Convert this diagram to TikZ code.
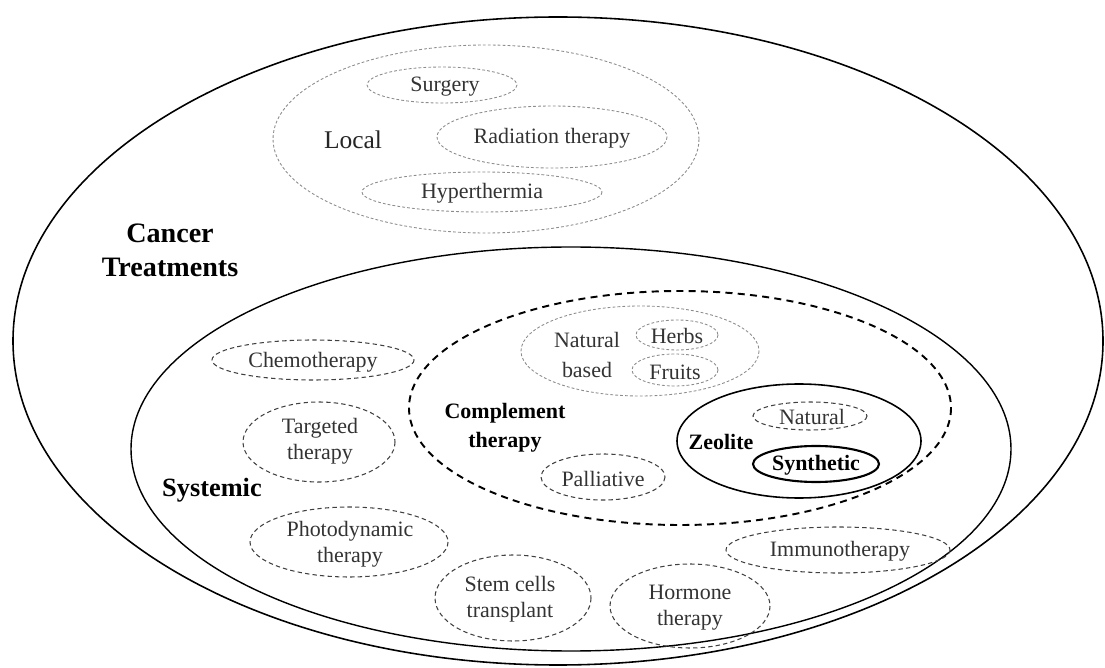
\documentclass[tikz,border=0pt]{standalone}
\usepackage{fontspec}
\setmainfont{Liberation Serif}
\tikzset{
  outerline/.style={line width=0.9pt},
  sysline/.style={line width=0.8pt},
  lightdash/.style={draw=black!45, line width=0.5pt, dash pattern=on 1.6pt off 1.2pt},
  itemdash/.style={draw=black!75, line width=0.6pt, dash pattern=on 2.5pt off 1.8pt},
  compdash/.style={line width=1.1pt, dash pattern=on 4pt off 3pt},
  zeoline/.style={line width=0.9pt},
  synline/.style={line width=1.2pt},
  lbl/.style={font=\fontsize{12.5}{15}\selectfont, text=black!80, align=center, inner sep=0pt},
  boldlbl/.style={font=\fontsize{12.5}{16.5}\selectfont\bfseries, align=center, inner sep=0pt},
  locallbl/.style={font=\fontsize{14.5}{17}\selectfont, text=black!85, inner sep=0pt},
  headlbl/.style={font=\fontsize{16}{19.3}\selectfont\bfseries, align=center, inner sep=0pt},
  syslbl/.style={font=\fontsize{15}{18}\selectfont\bfseries, inner sep=0pt}
}
\begin{document}
\begin{tikzpicture}[x=0.02cm, y=-0.02cm]
		\useasboundingbox (0,0) rectangle (1105,668);
		%%%%% START %%%%%
		
		\draw[outerline] (558, 341) ellipse (545 and 324);
		\node[headlbl] (cancer) at (170, 250) {Cancer\\Treatments};
		
		% local
		\draw[lightdash] (486, 139) ellipse (213 and 94);
		\node[locallbl] (local) at (353, 140) {Local};
		\draw[lightdash] (442, 85) ellipse (75 and 18);
		\node[lbl] (surgery) at (445, 87) {Surgery};
		\draw[lightdash] (552, 137) ellipse (115 and 31);
		\node[lbl] (radiation) at (552, 138) {Radiation therapy};
		\draw[lightdash] (482, 192) ellipse (120 and 20);
		\node[lbl] (hyper) at (482, 193) {Hyperthermia};
		
		% systemic
		\draw[sysline] (571, 449) ellipse (440 and 202);
		\node[syslbl] (systemic) at (212, 490) {Systemic};
		
		\draw[itemdash] (313, 360) ellipse (101 and 20);
		\node[lbl] (chemo) at (313, 362) {Chemotherapy};
		\draw[itemdash] (319, 442) ellipse (76 and 40);
		\node[lbl] (targeted) at (320, 441) {Targeted\\therapy};
		\draw[itemdash] (349, 542) ellipse (99 and 35);
		\node[lbl] (photo) at (350, 544) {Photodynamic\\therapy};
		\draw[itemdash] (513, 598) ellipse (78 and 43);
		\node[lbl] (stem) at (510, 599) {Stem cells\\transplant};
		\draw[itemdash] (690, 606) ellipse (80 and 42);
		\node[lbl] (hormone) at (690, 608) {Hormone\\therapy};
		\draw[itemdash] (838, 550) ellipse (112 and 23);
		\node[lbl] (immuno) at (840, 551) {Immunotherapy};
		
		% complement therapy
		\draw[compdash] (680, 408) ellipse (271 and 117);
		\node[boldlbl] (complement) at (505, 428) {Complement\\therapy};
		
		\draw[lightdash] (640, 351) ellipse (119 and 45);
		\node[lbl, font=\fontsize{12.5}{17.5}\selectfont] (natbased) at (587, 355) {Natural\\based};
		\draw[lightdash] (677, 335) ellipse (41 and 15);
		\node[lbl] (herbs) at (677, 336) {Herbs};
		\draw[lightdash] (675, 370) ellipse (43 and 16);
		\node[lbl] (fruits) at (675, 372) {Fruits};
		
		\draw[itemdash] (603, 477) ellipse (62 and 23);
		\node[lbl] (palliative) at (603, 479) {Palliative};
		
		% zeolite
		\draw[zeoline] (799, 441) ellipse (122 and 57);
		\node[boldlbl] (zeolite) at (721, 442) {Zeolite};
		\draw[itemdash] (810, 416) ellipse (57 and 14);
		\node[lbl] (natural) at (812, 417) {Natural};
		\draw[synline] (816, 464) ellipse (63 and 18);
		\node[boldlbl] (synthetic) at (816, 465) {Synthetic};
		
		%%%%% END %%%%%
\end{tikzpicture}
\end{document}
